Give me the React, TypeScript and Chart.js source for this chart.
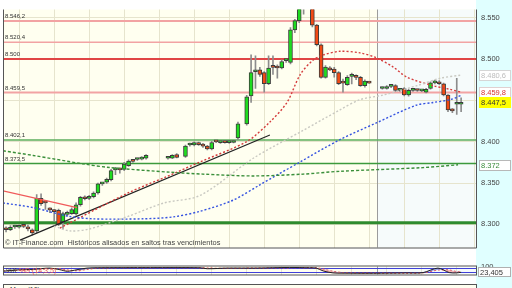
import React, { useEffect, useRef } from "react";
import { Chart, registerables } from "chart.js";

Chart.register(...registerables);

// ---------- candles (index, OHLC) ----------
const candleIdx = [
  0, 1, 2, 3, 4, 5, 6, 7, 8, 9, 10, 11, 12, 13, 14, 15, 16, 17, 18, 19, 20, 21, 22, 23, 24, 25, 26, 27, 28, 29, 30, 31, 32,
  37, 38, 39,
  41, 42, 43, 44, 45, 46, 47, 48, 49, 50, 51, 52, 53,
  55, 56, 57, 58, 59, 60, 61, 62, 63, 64, 65, 66, 67, 68,
  70, 71, 72, 73, 74, 75, 76, 77, 78, 79, 80, 81, 82, 83,
  86, 87, 88, 89, 90, 91, 92, 93, 94, 95, 96, 97, 98, 99, 100, 101, 102, 103, 104,
];
const opens = [
  8295.5, 8293.5, 8296.8, 8296.5, 8298.0, 8297.0, 8293.5, 8292.0, 8331.5, 8326.5, 8318.0, 8316.0, 8317.0, 8303.0, 8312.0, 8313.0, 8312.5, 8323.7, 8333.0, 8331.5, 8333.5, 8338.0, 8349.0, 8351.0, 8354.0, 8366.0, 8366.5, 8366.5, 8371.0, 8377.5, 8378.5, 8379.0, 8380.0,
  8380.0, 8380.0, 8384.5,
  8382.2, 8396.0, 8396.0, 8398.5, 8397.0, 8394.6, 8391.2, 8400.5, 8399.0, 8399.3, 8399.0, 8399.1, 8404.7,
  8421.6, 8455.4, 8484.7, 8486.9, 8483.6, 8470.1, 8490.3, 8490.3, 8489.2, 8498.2, 8496.0, 8535.4, 8546.6, 8570.0,
  8566.0, 8541.0, 8517.3, 8477.9, 8489.2, 8488.0, 8483.6, 8471.2, 8468.9, 8479.1, 8478.0, 8477.9, 8467.8, 8471.8,
  8464.4, 8464.4, 8467.0, 8467.8, 8462.2, 8464.4, 8456.5, 8462.2, 8462.2, 8461.5, 8459.9, 8464.4, 8471.2, 8472.3, 8470.1, 8456.5, 8438.5, 8445.3, 8445.3,
];
const highs = [
  8297.0, 8298.5, 8299.0, 8299.5, 8299.5, 8299.0, 8294.5, 8336.0, 8337.0, 8329.0, 8320.0, 8318.0, 8318.5, 8315.0, 8316.0, 8320.0, 8326.0, 8334.0, 8334.5, 8335.0, 8339.5, 8350.0, 8351.0, 8356.0, 8366.5, 8369.0, 8368.0, 8375.0, 8378.0, 8378.5, 8380.0, 8382.0, 8384.5,
  8381.5, 8384.5, 8385.5,
  8396.0, 8398.5, 8400.0, 8399.5, 8398.0, 8395.5, 8400.5, 8401.2, 8400.0, 8400.0, 8400.2, 8401.0, 8423.9,
  8456.0, 8505.0, 8503.8, 8490.0, 8485.0, 8503.8, 8503.8, 8493.0, 8499.0, 8500.0, 8538.0, 8548.0, 8572.0, 8578.0,
  8570.0, 8542.0, 8518.5, 8492.0, 8491.0, 8490.0, 8485.0, 8475.7, 8480.0, 8483.0, 8481.0, 8479.0, 8475.0, 8472.5,
  8466.0, 8468.0, 8469.0, 8469.0, 8464.5, 8465.5, 8463.5, 8463.5, 8463.5, 8463.0, 8464.5, 8472.5, 8474.5, 8474.0, 8471.0, 8457.0, 8440.0, 8476.8, 8453.2,
];
const lows = [
  8291.0, 8292.5, 8295.0, 8295.5, 8296.0, 8292.0, 8287.0, 8290.0, 8323.0, 8318.0, 8314.0, 8304.0, 8298.5, 8294.5, 8310.0, 8312.0, 8311.0, 8322.0, 8329.5, 8330.0, 8332.0, 8336.5, 8347.0, 8349.5, 8352.5, 8360.0, 8362.0, 8365.0, 8370.0, 8375.0, 8377.5, 8378.0, 8379.0,
  8379.0, 8379.5, 8380.5,
  8381.0, 8394.5, 8395.0, 8395.5, 8393.0, 8390.0, 8390.0, 8399.0, 8398.0, 8398.2, 8398.0, 8398.5, 8402.5,
  8420.0, 8447.5, 8464.4, 8479.0, 8459.9, 8469.0, 8481.3, 8476.8, 8488.0, 8496.0, 8494.0, 8532.0, 8544.0, 8554.5,
  8539.0, 8516.0, 8477.0, 8477.0, 8486.0, 8478.0, 8469.0, 8459.9, 8468.0, 8470.0, 8475.0, 8467.0, 8466.0, 8470.5,
  8463.5, 8463.5, 8465.5, 8461.0, 8461.0, 8455.5, 8455.0, 8461.0, 8461.0, 8460.5, 8459.0, 8463.5, 8470.0, 8469.0, 8455.5, 8436.3, 8435.1, 8432.9, 8436.3,
];
const closes = [
  8293.5, 8296.5, 8297.2, 8298.0, 8297.5, 8294.5, 8289.5, 8331.5, 8325.0, 8326.0, 8317.5, 8315.5, 8300.0, 8313.0, 8314.5, 8318.0, 8323.7, 8332.7, 8331.0, 8333.5, 8338.0, 8349.0, 8349.6, 8354.5, 8365.0, 8366.5, 8366.0, 8373.0, 8376.6, 8376.2, 8379.0, 8381.0, 8383.4,
  8380.3, 8383.4, 8381.1,
  8394.6, 8396.5, 8399.1, 8396.5, 8394.6, 8391.2, 8399.1, 8399.8, 8399.3, 8399.0, 8399.4, 8400.2, 8421.6,
  8454.3, 8483.6, 8485.0, 8481.3, 8470.1, 8489.2, 8490.0, 8489.2, 8497.1, 8498.5, 8535.4, 8546.6, 8566.0, 8575.0,
  8541.0, 8517.3, 8477.9, 8490.3, 8486.9, 8483.6, 8470.1, 8471.0, 8477.9, 8479.5, 8477.9, 8467.8, 8473.4, 8471.0,
  8464.8, 8466.7, 8467.2, 8462.2, 8463.3, 8456.5, 8462.2, 8462.5, 8462.0, 8461.8, 8463.3, 8471.2, 8473.4, 8470.1, 8456.5, 8438.5, 8437.4, 8445.5, 8447.5,
];

// ---------- moving averages ----------
const redMaIdx = [12.3, 28, 36.6, 44.3, 55, 60.3, 64.2, 67.2, 70.2, 72.5, 76.3, 80.9, 84.6, 88.5, 91.7, 97.6, 101.5, 104.2];
const redMaVal = [8295.5, 8338.3, 8357.5, 8375.5, 8400.2, 8423.9, 8447.5, 8481.0, 8499.0, 8505.0, 8509.4, 8507.5, 8501.6, 8490.3, 8477.9, 8467.8, 8463.3, 8459.8];
const greyMaIdx = [11, 14.6, 19, 28.1, 36.1, 44.3, 56.5, 67.9, 76.3, 80.9, 86.2, 93.9, 99.2, 104];
const greyMaVal = [8297.8, 8292.1, 8294.4, 8310.1, 8325.9, 8334.9, 8380.0, 8413.7, 8438.5, 8450.9, 8456.5, 8467.8, 8476.8, 8480.6];
const blueMaIdx = [-0.7, 6.2, 14, 19.9, 31.3, 38.2, 44.3, 51.9, 58, 67.2, 76.3, 84.6, 93.7, 97.6, 101.5, 104.2];
const blueMaVal = [8325.9, 8320.3, 8310.1, 8306.7, 8306.7, 8309.0, 8315.8, 8329.3, 8347.8, 8375.5, 8402.5, 8422.7, 8444.1, 8447.5, 8450.9, 8456.5];
const greenMaIdx = [-0.7, 6.2, 17.6, 23.8, 37.5, 45, 56.5, 67.9, 76.3, 95.3, 103.3];
const greenMaVal = [8389.0, 8383.4, 8373.2, 8368.7, 8363.1, 8360.8, 8358.6, 8360.8, 8364.2, 8368.7, 8372.1];

// ---------- trendlines ----------
const blackTrendIdx = [3.2, 60.3];
const blackTrendVal = [8280.9, 8408.1];
const redTrendIdx = [-0.7, 16.2];
const redTrendVal = [8340.6, 8320.3];

// ---------- horizontal levels ----------
const levelValues = [8546.2, 8520.4, 8500.0, 8459.5, 8402.1, 8373.5, 8302.0];
const levelLabels = ["8.546,2", "8.520,4", "8.500", "8.459,5", "8.402,1", "8.373,5", ""];

// ---------- right-hand value boxes ----------
const boxValues = [8480.6, 8459.8, 8447.5, 8372.0];
const boxTexts = ["8.480,6", "8.459,8", "8.447,5", "8.372"];

// ---------- x grid ----------
const gridIdx = [7, 15, 23, 31, 39, 47, 55, 63, 71, 79, 87, 95, 103];
const yearIdx = 84.8;

// ---------- stochastic ----------
const stochIdx = [-0.7, 3.2, 6.2, 10, 12.3, 14, 16.2, 18.5, 20.8, 33, 44.3, 46, 50.5, 57, 64.7, 69.3, 70.9, 72.5, 74.7, 77, 83.9, 91.4, 95.3, 98.7, 101.3, 102.9, 104];
const kValues = [35, 60, 65, 85, 60, 35, 60, 85, 90, 92, 90, 75, 85, 85, 95, 90, 85, 40, 10, 6, 5, 10, 15, 85, 15, 10, 20];
const dValues = [45, 50, 60, 75, 75, 55, 45, 65, 85, 92, 90, 85, 80, 85, 90, 92, 90, 70, 35, 15, 6, 8, 12, 55, 55, 30, 23.4];
const stochBands = [80, 20];
const stochTicks = [100, 50];
const stochLast = 23.405;

const X_MIN = -0.7;
const X_MAX = 107.4;
const FONT = "'Liberation Sans', Arial, sans-serif";

function fmtNum(v: number, dec: number) {
  const s = Math.abs(v).toFixed(dec);
  const [ip, fp] = s.split(".");
  const g = ip.replace(/\B(?=(\d{3})+(?!\d))/g, ".");
  return (v < 0 ? "-" : "") + (fp ? g + "," + fp : g);
}

function pts(xs: number[], ys: number[]) {
  return xs.map((x, i) => ({ x, y: ys[i] }));
}

function xScaleCfg() {
  return {
    type: "linear",
    min: X_MIN,
    max: X_MAX,
    offset: false,
    ticks: { display: false, autoSkip: false },
    grid: { drawTicks: false, lineWidth: 1, color: "#e6e4cd" },
    border: { display: false },
    afterBuildTicks: (s: any) => {
      s.ticks = gridIdx.map((v) => ({ value: v }));
    },
    afterFit: (s: any) => {
      s.height = 0;
    },
  };
}

function paintBackground(chart: any) {
  const { ctx, chartArea: a, width, height } = chart;
  const xs = chart.scales.x;
  ctx.save();
  ctx.fillStyle = "#ffffff";
  ctx.fillRect(0, 0, width, height);
  ctx.fillStyle = "#e0ffff";
  ctx.fillRect(a.right, 0, width - a.right, height);
  ctx.fillStyle = "#fffff0";
  ctx.fillRect(a.left, a.top, a.right - a.left, a.bottom - a.top);
  const sx = xs.getPixelForValue(yearIdx);
  ctx.fillStyle = "#f6fbfb";
  ctx.fillRect(sx, a.top, a.right - sx, a.bottom - a.top);
  ctx.restore();
}

function drawYearLine(chart: any) {
  const { ctx, chartArea: a } = chart;
  const x = Math.round(chart.scales.x.getPixelForValue(yearIdx)) + 0.5;
  ctx.save();
  ctx.strokeStyle = "#9c9c9c";
  ctx.lineWidth = 1;
  ctx.beginPath();
  ctx.moveTo(x, a.top);
  ctx.lineTo(x, a.bottom);
  ctx.stroke();
  ctx.restore();
}

export default function App() {
  const mainRef = useRef<HTMLCanvasElement>(null);
  const stochRef = useRef<HTMLCanvasElement>(null);

  useEffect(() => {
    const levelColors = ["#f2a3a3", "#f2a3a3", "#e04545", "#f2a3a3", "#5cae5c", "#3c9a3c", "#2e8b2e"];
    const levelWidths = [2, 1.5, 2, 2, 1.5, 1.5, 3];
    const boxText = ["#bdbdbd", "#d83030", "#333333", "#3a8a3a"];
    const boxBg = ["#ffffff", "#ffffff", "#ffff00", "#ffffff"];
    const boxBorder = ["#d6d6d6", "#e0d0d0", "#ffff00", "#b8b8b8"];

    const mainPlugin = {
      id: "mainDecor",
      beforeDraw(chart: any) {
        paintBackground(chart);
      },
      beforeDatasetsDraw(chart: any) {
        const { ctx, chartArea: a } = chart;
        const ys = chart.scales.y;
        drawYearLine(chart);
        ctx.save();
        levelValues.forEach((v, i) => {
          const y = ys.getPixelForValue(v);
          ctx.strokeStyle = levelColors[i];
          ctx.lineWidth = levelWidths[i];
          ctx.beginPath();
          ctx.moveTo(a.left, y);
          ctx.lineTo(a.right, y);
          ctx.stroke();
        });
        ctx.fillStyle = "#333";
        ctx.font = `6px ${FONT}`;
        ctx.textBaseline = "bottom";
        ctx.textAlign = "left";
        levelValues.forEach((v, i) => {
          if (!levelLabels[i]) return;
          const y = ys.getPixelForValue(v);
          ctx.fillText(levelLabels[i], a.left + 2, y - 1.5);
        });
        ctx.restore();
      },
      afterDraw(chart: any) {
        const { ctx, chartArea: a, width } = chart;
        const ys = chart.scales.y;
        ctx.save();
        ctx.strokeStyle = "#555";
        ctx.lineWidth = 1;
        ctx.beginPath();
        ctx.moveTo(a.left + 0.5, a.top);
        ctx.lineTo(a.left + 0.5, a.bottom + 0.5);
        ctx.lineTo(a.right + 0.5, a.bottom + 0.5);
        ctx.lineTo(a.right + 0.5, a.top);
        ctx.stroke();
        ctx.fillStyle = "#444";
        ctx.font = `7.4px ${FONT}`;
        ctx.textBaseline = "middle";
        ctx.textAlign = "left";
        ctx.fillText("© IT-Finance.com  Históricos alisados en saltos tras vencimientos", a.left + 2, a.bottom - 4.5);
        ctx.font = `7.5px ${FONT}`;
        boxValues.forEach((v, i) => {
          const y = Math.round(ys.getPixelForValue(v));
          const x = a.right + 3;
          ctx.fillStyle = boxBg[i];
          ctx.fillRect(x, y - 5, width - x - 1, 11);
          ctx.strokeStyle = boxBorder[i];
          ctx.strokeRect(x + 0.5, y - 4.5, width - x - 2, 10);
          ctx.fillStyle = boxText[i];
          ctx.fillText(boxTexts[i], x + 2, y + 0.5);
        });
        ctx.restore();
      },
    };

    const bodyColors = candleIdx.map((_, i) => (closes[i] >= opens[i] ? "#1fdc1f" : "#f24a14"));

    const lineDs = (label: string, data: any, color: string, dash: number[], w: number) => ({
      type: "line",
      label,
      data,
      borderColor: color,
      borderWidth: w,
      borderDash: dash,
      pointRadius: 0,
      fill: false,
      tension: 0.3,
      order: 0,
    });

    const main = new Chart(mainRef.current as HTMLCanvasElement, {
      type: "bar",
      data: {
        datasets: [
          {
            type: "bar",
            label: "wicks",
            data: candleIdx.map((x, i) => ({ x, y: [lows[i], highs[i]] })),
            backgroundColor: "#8c8c8c",
            barThickness: 1,
            grouped: false,
            order: 3,
          },
          {
            type: "bar",
            label: "bodies",
            data: candleIdx.map((x, i) => ({ x, y: [opens[i], closes[i]] })),
            backgroundColor: bodyColors,
            borderColor: "#3c3c3c",
            borderWidth: 1,
            borderSkipped: false,
            barThickness: 4,
            minBarLength: 2,
            grouped: false,
            order: 2,
          },
          lineDs("green", pts(greenMaIdx, greenMaVal), "#3a8f3a", [3, 2], 1.4),
          lineDs("grey", pts(greyMaIdx, greyMaVal), "#c9c9c2", [2, 2], 1.4),
          lineDs("blue", pts(blueMaIdx, blueMaVal), "#3553e0", [2, 2], 1.4),
          lineDs("red", pts(redMaIdx, redMaVal), "#d43c3c", [2, 2], 1.4),
          { ...lineDs("trend", pts(blackTrendIdx, blackTrendVal), "#222222", [], 1.2), tension: 0 },
          { ...lineDs("trend2", pts(redTrendIdx, redTrendVal), "#f05a5a", [], 1.2), tension: 0 },
        ] as any,
      },
      options: {
        responsive: false,
        devicePixelRatio: 1,
        animation: false,
        events: [],
        layout: { padding: { left: 3, right: 0, top: 0, bottom: 1 }, autoPadding: false },
        plugins: { legend: { display: false }, tooltip: { enabled: false } },
        scales: {
          x: xScaleCfg() as any,
          y: {
            position: "right",
            min: 8272,
            max: 8560,
            ticks: {
              stepSize: 50,
              includeBounds: false,
              padding: 5,
              color: "#444",
              font: { family: FONT, size: 7.5 },
              callback: (v: any) => (v === 8450 ? "" : fmtNum(Number(v), 0)),
            },
            grid: { color: "#e6e4cd", drawTicks: false },
            border: { display: false },
            afterFit: (s: any) => {
              s.width = 36;
            },
          } as any,
        },
      },
      plugins: [mainPlugin],
    } as any);

    const stochPlugin = {
      id: "stochDecor",
      beforeDraw(chart: any) {
        paintBackground(chart);
      },
      beforeDatasetsDraw(chart: any) {
        const { ctx, chartArea: a } = chart;
        const ys = chart.scales.y;
        drawYearLine(chart);
        ctx.save();
        ctx.strokeStyle = "#4040d8";
        ctx.lineWidth = 1;
        stochBands.forEach((v) => {
          const y = Math.round(ys.getPixelForValue(v)) + 0.5;
          ctx.beginPath();
          ctx.moveTo(a.left, y);
          ctx.lineTo(a.right, y);
          ctx.stroke();
        });
        ctx.restore();
      },
      afterDraw(chart: any) {
        const { ctx, chartArea: a, width } = chart;
        const ys = chart.scales.y;
        ctx.save();
        ctx.strokeStyle = "#555";
        ctx.lineWidth = 1;
        ctx.strokeRect(a.left + 0.5, a.top - 0.5, a.right - a.left, a.bottom - a.top + 1);
        ctx.font = `7px ${FONT}`;
        ctx.textBaseline = "middle";
        ctx.textAlign = "left";
        ctx.fillStyle = "#333";
        ctx.fillText("%K", a.left + 3, a.top + 4.5);
        const w = ctx.measureText("%K ").width;
        ctx.fillStyle = "#e85a5a";
        ctx.fillText("%D (14,3,5)", a.left + 3 + w, a.top + 4.5);
        const y = Math.round(ys.getPixelForValue(stochLast));
        const x = a.right + 2;
        ctx.fillStyle = "#ffffff";
        ctx.fillRect(x, y - 5, width - x - 1, 10);
        ctx.strokeStyle = "#b0b0b0";
        ctx.strokeRect(x + 0.5, y - 4.5, width - x - 2, 9);
        ctx.fillStyle = "#333";
        ctx.font = `7.5px ${FONT}`;
        ctx.fillText(fmtNum(stochLast, 3), x + 2, y + 0.5);
        ctx.restore();
      },
    };

    const stoch = new Chart(stochRef.current as HTMLCanvasElement, {
      type: "line",
      data: {
        datasets: [
          {
            label: "%K",
            data: pts(stochIdx, kValues),
            borderColor: "#222",
            borderWidth: 1,
            pointRadius: 0,
            tension: 0.3,
            fill: { target: 1, above: "rgba(120,135,225,0.75)", below: "rgba(244,160,160,0.75)" },
          },
          {
            label: "%D",
            data: pts(stochIdx, dValues),
            borderColor: "#e05050",
            borderWidth: 1.2,
            borderDash: [2, 2],
            pointRadius: 0,
            tension: 0.3,
            fill: false,
          },
        ] as any,
      },
      options: {
        responsive: false,
        devicePixelRatio: 1,
        animation: false,
        events: [],
        layout: { padding: { left: 3, right: 0, top: 1, bottom: 1 }, autoPadding: false },
        plugins: { legend: { display: false }, tooltip: { enabled: false } },
        scales: {
          x: xScaleCfg() as any,
          y: {
            position: "right",
            min: -15,
            max: 110,
            afterBuildTicks: (s: any) => {
              s.ticks = stochTicks.map((v) => ({ value: v }));
            },
            ticks: {
              padding: 5,
              color: "#444",
              font: { family: FONT, size: 7.5 },
              callback: (v: any) => String(v),
            },
            grid: { display: false, drawTicks: false },
            border: { display: false },
            afterFit: (s: any) => {
              s.width = 36;
            },
          } as any,
        },
      },
      plugins: [stochPlugin],
    } as any);

    return () => {
      main.destroy();
      stoch.destroy();
    };
  }, []);

  return (
    <div style={{ position: "absolute", left: 0, top: 0, width: 512, height: 288, overflow: "hidden", background: "#fff" }}>
      <canvas ref={mainRef} width={512} height={257} style={{ position: "absolute", left: 0, top: 0 }} />
      <canvas ref={stochRef} width={512} height={27} style={{ position: "absolute", left: 0, top: 257 }} />
      <div
        style={{
          position: "absolute",
          left: 3,
          top: 284,
          width: 474,
          height: 10,
          boxSizing: "border-box",
          borderTop: "1px solid #555",
          borderLeft: "1px solid #555",
          borderRight: "1px solid #555",
          background: "#fffff0",
          overflow: "hidden",
        }}
      >
        <span style={{ position: "absolute", left: 6, top: 1, font: `7px ${FONT}`, color: "#333", whiteSpace: "nowrap" }}>Mom (10)</span>
      </div>
      <div style={{ position: "absolute", left: 477, top: 284, width: 35, height: 4, background: "#e0ffff" }} />
    </div>
  );
}
